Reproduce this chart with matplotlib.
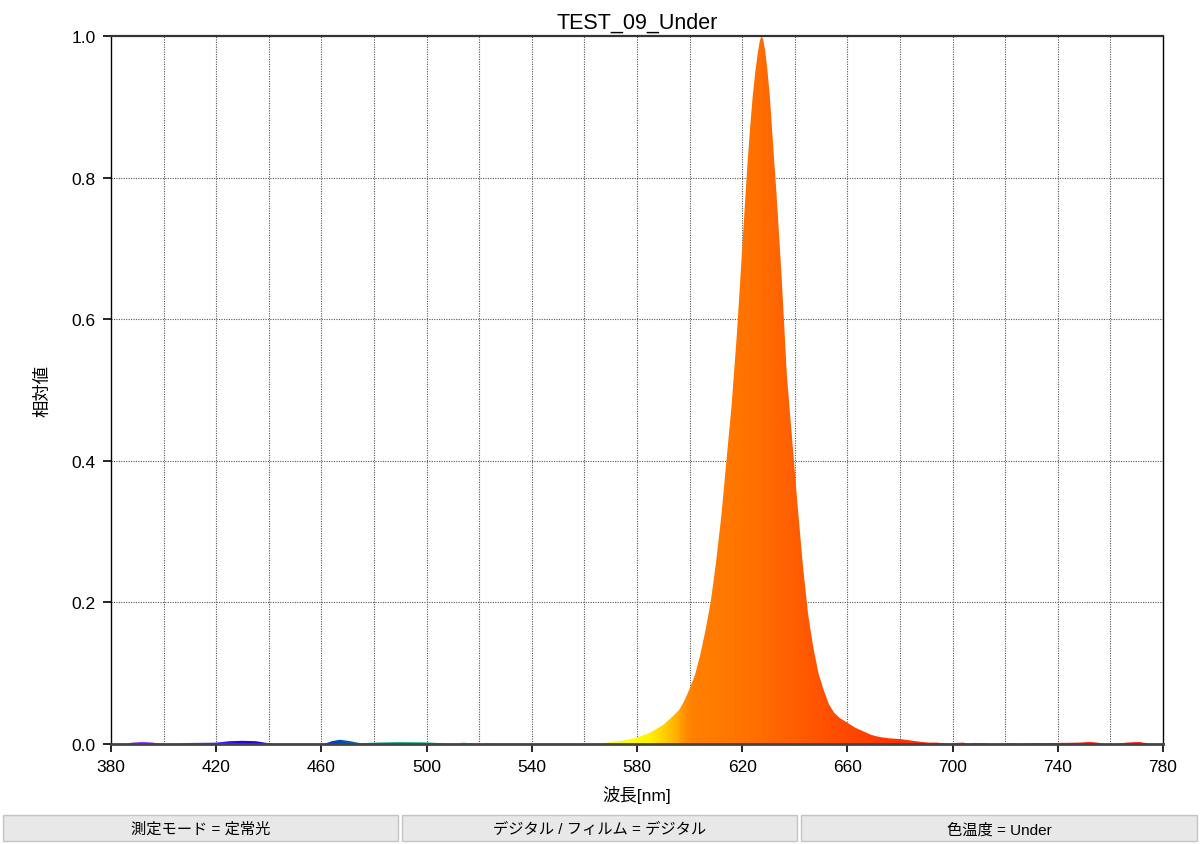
import matplotlib
matplotlib.use("Agg")
import matplotlib.pyplot as plt
import numpy as np
from matplotlib.colors import LinearSegmentedColormap
from matplotlib.patches import Rectangle
from matplotlib.ticker import FixedLocator, FormatStrFormatter

plt.rcParams['font.family'] = ['Liberation Sans', 'Noto Sans CJK JP', 'DejaVu Sans']

# ---------------- data ----------------
title = "TEST_09_Under"
xlabel = "波長[nm]"
ylabel = "相対値"
footer_labels = ["測定モード = 定常光", "デジタル / フィルム = デジタル", "色温度 = Under"]
x_major_ticks = [380, 420, 460, 500, 540, 580, 620, 660, 700, 740, 780]
x_grid_lines = [400, 420, 440, 460, 480, 500, 520, 540, 560, 580, 600, 620, 640, 660, 680,
                700, 720, 740, 760]
y_ticks = [0.0, 0.2, 0.4, 0.6, 0.8, 1.0]

wavelength = [380, 386, 388, 392, 396, 399, 405, 410, 420, 425, 430, 435, 440, 442,
              461, 464, 467, 471, 475, 480, 490, 500, 506, 508, 511, 514, 517, 519,
              521, 523, 525, 564, 566, 570, 575, 580, 585, 590, 593, 596, 598, 600,
              602, 604, 606, 608, 610, 612, 614, 616, 618, 620, 621, 622, 623, 624, 625, 626,
              626.7, 627.3, 628, 628.7, 629.5, 630.5, 631.5, 633, 635, 637, 639, 641, 643, 645,
              647, 649, 651, 653, 655, 657, 660, 663, 666, 669, 672, 676, 680, 684, 688, 691,
              694, 697, 699, 701, 704, 706, 708, 712, 714, 720, 722, 725, 730, 740,
              748, 752, 755, 758, 762, 766, 771, 775, 780]
intensity = [0, 0, 0.002, 0.003, 0.002, 0, 0, 0.0015, 0.002, 0.004, 0.0045, 0.004, 0.001, 0,
             0, 0.004, 0.006, 0.004, 0.001, 0.002, 0.003, 0.0025, 0.001, 0, 0, 0.002, 0.001, 0,
             0, 0.0015, 0, 0, 0.001, 0.0025, 0.005, 0.009, 0.016, 0.027, 0.037, 0.048, 0.061, 0.078,
             0.097, 0.125, 0.160, 0.200, 0.255, 0.32, 0.40, 0.48, 0.58, 0.70, 0.76, 0.82, 0.87, 0.915, 0.95, 0.978,
             0.993, 1.0, 0.995, 0.98, 0.955, 0.915, 0.86, 0.78, 0.66, 0.52, 0.43, 0.34, 0.255, 0.185,
             0.137, 0.10, 0.076, 0.056, 0.044, 0.037, 0.030, 0.023, 0.018, 0.013, 0.010, 0.008, 0.007, 0.005, 0.003, 0.002,
             0.002, 0.001, 0, 0.0015, 0.002, 0, 0.0015, 0.001, 0, 0, 0.0012, 0, 0.001, 0.0015,
             0.002, 0.003, 0.002, 0, 0, 0.002, 0.003, 0, 0]

# colour of light by wavelength (nm, colour)
color_stops = [(380, '#A040E0'), (395, '#9838F0'), (415, '#7040FF'), (428, '#2800F0'),
               (445, '#1010D0'), (462, '#0038B8'), (470, '#0858A8'), (480, '#30A8A0'),
               (500, '#38C088'), (512, '#40E060'), (525, '#60FF50'), (545, '#A0FF20'),
               (565, '#E8FF00'), (578, '#FFFF00'), (585, '#FFF000'), (590, '#FFD200'),
               (595, '#FFB000'), (598, '#FF9000'), (601, '#FF8000'), (620, '#FF7400'),
               (640, '#FF5E00'), (660, '#FF4800'), (680, '#FF3200'), (700, '#FF2A20'),
               (780, '#FF2A2A')]

# ---------------- figure ----------------
fig = plt.figure(figsize=(12, 8.45), dpi=100)
ax = fig.add_axes([111/1200, 100/845, (1163-111)/1200, (745-37)/845])

xmin, xmax = 380, 780
ax.set_xlim(xmin, xmax)
ax.set_ylim(0, 1.0)

poly = ax.fill_between(wavelength, intensity, 0, color='none', lw=0)
path = poly.get_paths()[0]

cmap = LinearSegmentedColormap.from_list(
    'spec', [((w - xmin) / (xmax - xmin), c) for w, c in color_stops], N=1024)
grad = np.linspace(0, 1, 1200).reshape(1, -1)
im = ax.imshow(grad, cmap=cmap, extent=[xmin, xmax, 0, 1.0], aspect='auto',
               origin='lower', interpolation='bilinear', zorder=2)
im.set_clip_path(path, transform=ax.transData)

# grid
grid_style = dict(linestyle=(0, (1, 1.2)), color='#555555', linewidth=0.8, zorder=1)
for gx in x_grid_lines:
    ax.axvline(gx, **grid_style)
for gy in y_ticks[1:-1]:
    ax.axhline(gy, **grid_style)

ax.xaxis.set_major_locator(FixedLocator(x_major_ticks))
ax.yaxis.set_major_locator(FixedLocator(y_ticks))
ax.tick_params(axis='both', which='major', direction='out', length=6, width=1.2,
               labelsize=12.5, color='black', pad=5)
ax.yaxis.set_major_formatter(FormatStrFormatter('%.1f'))

for s in ['left', 'right']:
    ax.spines[s].set_linewidth(1.0)
    ax.spines[s].set_color('black')
ax.spines['bottom'].set_linewidth(2.0)
ax.spines['bottom'].set_color('#444444')
ax.spines['top'].set_linewidth(1.6)
ax.spines['top'].set_color('#333333')

ax.set_title(title, fontsize=15.5, pad=6)
ax.set_xlabel(xlabel, fontsize=12.5, labelpad=8)
ax.set_ylabel(ylabel, fontsize=12.5, labelpad=15)

# footer boxes
boxes = [(3, 398), (402, 797), (801, 1197)]
for (x0, x1), lab in zip(boxes, footer_labels):
    r = Rectangle((x0/1200, (845-842)/845), (x1-x0)/1200, 26/845,
                  transform=fig.transFigure, facecolor='#E8E8E8', edgecolor='#C4C4C4',
                  linewidth=1.0)
    fig.add_artist(r)
    fig.text((x0+x1)/2/1200, (845-830)/845, lab, ha='center', va='center', fontsize=11)

fig.savefig('out.png', dpi=100)
